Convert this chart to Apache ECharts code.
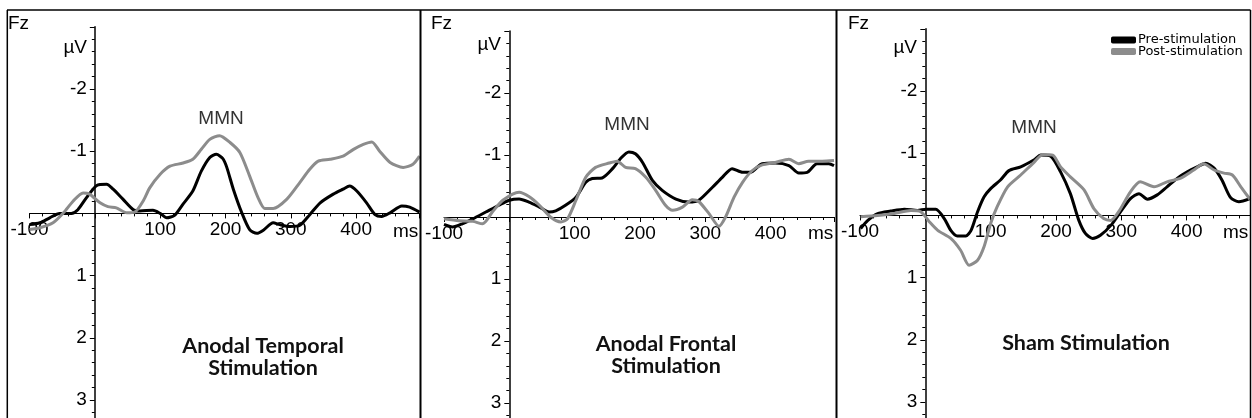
<!DOCTYPE html>
<html><head><meta charset="utf-8">
<script src="https://cdn.jsdelivr.net/npm/echarts@6/dist/echarts.min.js"></script>
<style>html,body{margin:0;padding:0;background:#fff}#c{width:1252px;height:418px}</style>
</head><body><div id="c"></div>
<script>
// ---- data ----
const seriesNames = ['Pre-stimulation', 'Post-stimulation'];
const panelTitles = [['Anodal Temporal', 'Stimulation'], ['Anodal Frontal', 'Stimulation'], ['Sham Stimulation']];
const xTickLabels = [-100, 100, 200, 300, 400];
const yTickLabels = [-2, -1, 1, 2, 3];
const xRange = [-100, 497];
const yRange = [-3, 3.3];

// Panel 1: Anodal Temporal
const p1PreT  = [-100,-84,-69,-54,-36,-26,-13,3,18,28,43,59,69,89,100,110,122,135,150,163,176,186,196,202,212,225,237,248,258,273,283,299,314,329,345,365,380,390,401,416,429,439,452,470,482,497];
const p1PreV  = [0.18,0.15,0.07,0,0,-0.06,-0.25,-0.45,-0.47,-0.39,-0.23,-0.06,-0.04,-0.05,0,0.07,0.03,-0.15,-0.36,-0.68,-0.9,-0.95,-0.88,-0.74,-0.39,-0.01,0.26,0.32,0.27,0.15,0.18,0.21,0.19,0.02,-0.17,-0.31,-0.39,-0.44,-0.36,-0.17,0.02,0.05,-0.01,-0.12,-0.1,-0.02];
const p1PostT = [-100,-84,-64,-48,-33,-18,-8,8,20,33,49,61,74,84,100,115,135,150,163,176,191,207,222,237,250,260,273,294,314,329,342,360,380,396,411,424,436,452,472,487,497];
const p1PostV = [0.26,0.23,0.15,-0.01,-0.2,-0.33,-0.31,-0.17,-0.11,-0.09,-0.01,-0.02,-0.2,-0.41,-0.63,-0.76,-0.81,-0.87,-1.03,-1.19,-1.25,-1.14,-0.98,-0.6,-0.25,-0.08,-0.08,-0.23,-0.5,-0.71,-0.84,-0.87,-0.92,-1.03,-1.11,-1.15,-1.0,-0.82,-0.74,-0.79,-0.92];

// Panel 2: Anodal Frontal
const p2PreT  = [-100,-87,-72,-56,-36,-16,0,15,30,46,61,71,86,102,117,127,142,158,170,183,193,204,219,234,255,275,290,311,326,341,357,369,387,407,428,443,456,471,489,497];
const p2PreV  = [0.12,0.16,0.11,0.03,-0.08,-0.19,-0.27,-0.29,-0.24,-0.16,-0.08,-0.1,-0.19,-0.32,-0.56,-0.62,-0.63,-0.78,-0.94,-1.05,-1.02,-0.88,-0.59,-0.43,-0.29,-0.24,-0.27,-0.48,-0.64,-0.78,-0.72,-0.72,-0.86,-0.87,-0.83,-0.71,-0.72,-0.86,-0.86,-0.83];
const p2PostT = [-100,-77,-56,-41,-26,-10,15,30,46,63,79,89,102,117,132,153,165,178,193,209,224,239,250,265,280,290,306,321,331,344,357,372,387,407,428,443,458,479,497];
const p2PostV = [0.03,0.06,0.07,0.11,-0.08,-0.27,-0.4,-0.33,-0.19,0,0.08,0.03,-0.27,-0.64,-0.8,-0.87,-0.9,-0.8,-0.78,-0.64,-0.43,-0.19,-0.11,-0.16,-0.28,-0.25,-0.05,0.15,0,-0.32,-0.56,-0.75,-0.84,-0.88,-0.93,-0.86,-0.9,-0.9,-0.91];

// Panel 3: Sham
const p3PreT  = [-99,-88,-73,-53,-32,-12,1,16,29,39,49,62,70,80,90,100,115,128,146,166,177,192,207,222,235,245,256,268,284,299,314,327,340,355,370,386,401,416,429,442,454,467,480,497];
const p3PreV  = [0.21,0.08,-0.03,-0.07,-0.1,-0.08,-0.1,-0.1,0.05,0.24,0.33,0.33,0.24,-0.06,-0.3,-0.43,-0.57,-0.72,-0.78,-0.89,-0.97,-0.95,-0.7,-0.35,0.08,0.29,0.37,0.32,0.16,-0.06,-0.27,-0.35,-0.26,-0.33,-0.46,-0.6,-0.7,-0.78,-0.84,-0.76,-0.57,-0.29,-0.22,-0.27];
const p3PostT = [-99,-73,-48,-22,-7,6,19,39,54,67,80,90,100,110,126,146,166,180,195,207,222,243,258,273,284,296,314,329,350,370,391,411,426,442,457,470,483,497];
const p3PostV = [0.02,0,-0.03,-0.08,-0.06,0.1,0.24,0.37,0.56,0.8,0.72,0.5,0.13,-0.14,-0.46,-0.65,-0.85,-0.98,-0.97,-0.78,-0.62,-0.41,-0.11,0.05,0.08,-0.06,-0.38,-0.54,-0.46,-0.54,-0.6,-0.73,-0.83,-0.73,-0.68,-0.65,-0.46,-0.26];

const panelData = [
  [[p1PreT, p1PreV], [p1PostT, p1PostV]],
  [[p2PreT, p2PreV], [p2PostT, p2PostV]],
  [[p3PreT, p3PreV], [p3PostT, p3PostV]]
];

// ---- layout / style ----
const layout = [
  { grid: {left: 29.5, top: 26.8, width: 390, height: 391.9},
    fz: [8, 23.5], uv: [87, 47.5], mmn: [221, 119], ms: [393, 222], title: [263, 346, 368] },
  { grid: {left: 444, top: 31, width: 390, height: 390.6},
    fz: [431, 23.5], uv: [501, 44.7], mmn: [627, 124.5], ms: [808, 224.5], title: [666, 344, 366] },
  { grid: {left: 860, top: 28.8, width: 390, height: 391.9},
    fz: [848, 23.5], uv: [917, 48], mmn: [1034, 128], ms: [1223, 223.4], title: [1086, 343] }
];
const colors = ['#000000', '#8c8c8c'];
const labelFamily = '"Liberation Sans", Arial, sans-serif';
const labelFont = '19px ' + labelFamily;
const titleFont = 'bold 21.5px Lato, "Open Sans", sans-serif';

const isLabel = (v, list) => Math.abs(v - Math.round(v)) < 1e-6 && list.indexOf(Math.round(v)) >= 0;

const grids = [], xAxes = [], yAxes = [], series = [], graphics = [];
layout.forEach((L, i) => {
  const G = L.grid;
  grids.push(Object.assign({outerBoundsMode: 'none', containLabel: false}, G));
  // place each axis through the zero of the other axis (offsets derived from the scales)
  const yZeroFromBottom = (yRange[1] - 0) / (yRange[1] - yRange[0]) * G.height;
  const xZeroFromLeft = (0 - xRange[0]) / (xRange[1] - xRange[0]) * G.width;
  xAxes.push({
    type: 'value', gridIndex: i, min: xRange[0], max: xRange[1], interval: 100,
    position: 'bottom', offset: -yZeroFromBottom,
    axisLine: {onZero: false, lineStyle: {color: '#000', width: 1}},
    axisTick: {show: true, length: 5, lineStyle: {color: '#000'}},
    minorTick: {show: true, splitNumber: 5, length: 3, lineStyle: {color: '#000'}},
    splitLine: {show: false},
    axisLabel: {margin: 7, color: '#000', fontSize: 19, fontFamily: labelFamily,
      formatter: v => isLabel(v, xTickLabels) ? String(Math.round(v)) : ''}
  });
  yAxes.push({
    type: 'value', gridIndex: i, inverse: true, min: yRange[0], max: yRange[1], interval: 1,
    position: 'left', offset: -xZeroFromLeft,
    axisLine: {onZero: false, lineStyle: {color: '#000', width: 1.5}},
    axisTick: {show: true, length: 5, lineStyle: {color: '#000'}},
    minorTick: {show: true, splitNumber: 5, length: 3, lineStyle: {color: '#000'}},
    splitLine: {show: false},
    axisLabel: {margin: 8, color: '#000', fontSize: 19, fontFamily: labelFamily,
      formatter: v => isLabel(v, yTickLabels) ? String(Math.round(v)) : ''}
  });
  panelData[i].forEach((pair, k) => {
    const [T, V] = pair;
    series.push({
      name: seriesNames[k], type: 'line', xAxisIndex: i, yAxisIndex: i,
      data: T.map((t, j) => [t, V[j]]),
      showSymbol: false, smooth: 0.25, z: k === 0 ? 3 : 4,
      lineStyle: {color: colors[k], width: 3}, itemStyle: {color: colors[k]},
      emphasis: {disabled: true}
    });
  });
  graphics.push(
    {type: 'text', x: L.fz[0], y: L.fz[1], style: {text: 'Fz', font: labelFont, fill: '#000', align: 'left', verticalAlign: 'middle'}},
    {type: 'text', x: L.uv[0], y: L.uv[1], style: {text: 'µV', font: labelFont, fill: '#000', align: 'right', verticalAlign: 'middle'}},
    {type: 'text', x: L.mmn[0], y: L.mmn[1], style: {text: 'MMN', font: labelFont, fill: '#333', align: 'center', verticalAlign: 'middle'}},
    {type: 'text', x: L.ms[0], y: L.ms[1], style: {text: 'ms', font: labelFont, fill: '#000', align: 'left', verticalAlign: 'top'}}
  );
  panelTitles[i].forEach((line, j) => {
    graphics.push({type: 'text', x: L.title[0], y: L.title[1 + j],
      style: {text: line, font: titleFont, fill: '#111', align: 'center', verticalAlign: 'middle'}});
  });
});

// frame lines
const frame = [[7, 10, 1250.5, 10, 1.5], [7.3, 10, 7.3, 418, 1.5], [420.5, 10, 420.5, 418, 2], [836.5, 10, 836.5, 418, 2], [1250.5, 10, 1250.5, 418, 1.5]];
frame.forEach(f => graphics.push({type: 'line', shape: {x1: f[0], y1: f[1], x2: f[2], y2: f[3]}, style: {stroke: '#000', lineWidth: f[4]}, z: 10}));

const chart = echarts.init(document.getElementById('c'), null, {renderer: 'canvas'});
chart.setOption({
  animation: false,
  backgroundColor: '#fff',
  grid: grids, xAxis: xAxes, yAxis: yAxes, series: series,
  legend: {
    data: seriesNames, orient: 'vertical', left: 1111, top: 33.5,
    itemWidth: 25, itemHeight: 7, itemGap: -1.5, icon: 'roundRect', padding: 0,
    textStyle: {fontSize: 13, lineHeight: 10, fontFamily: '"DejaVu Sans", Verdana, sans-serif', color: '#000', padding: [0, 0, 0, -3]},
    selectedMode: false
  },
  graphic: graphics
});
</script></body></html>
